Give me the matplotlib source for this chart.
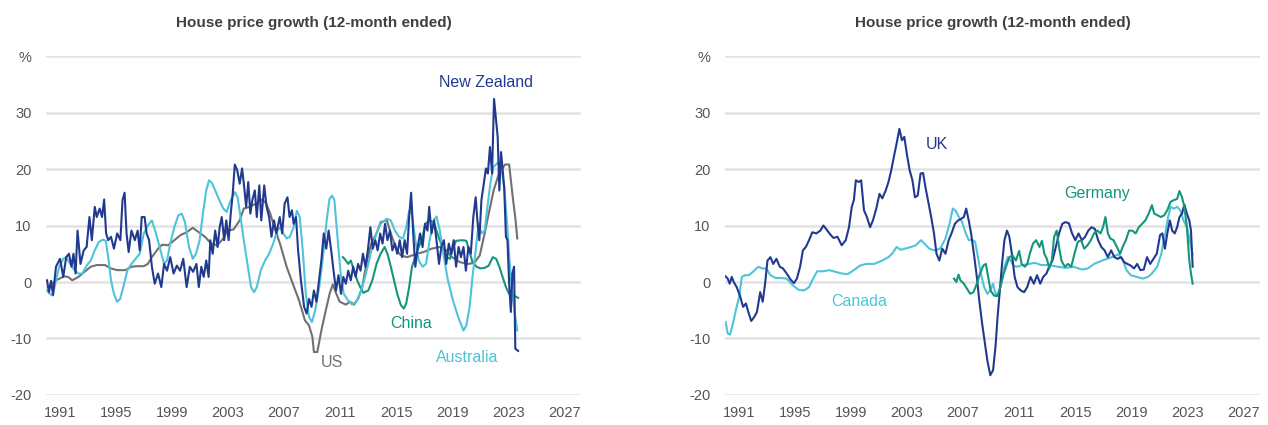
import matplotlib
matplotlib.use("Agg")
import matplotlib.pyplot as plt
from matplotlib import font_manager

# --- data (decimal years, % growth 12-month ended) ---
nz_x = [1990.07, 1990.21, 1990.36, 1990.50, 1990.71, 1991.00, 1991.23, 1991.44, 1991.64, 1991.82,
        1991.96, 1992.11, 1992.25, 1992.46, 1992.69, 1992.90, 1993.10, 1993.27, 1993.48, 1993.62,
        1993.83, 1994.00, 1994.15, 1994.29, 1994.44, 1994.64, 1994.85, 1995.08, 1995.31, 1995.46,
        1995.61, 1995.75, 1995.90, 1996.10, 1996.34, 1996.54, 1996.69, 1996.83, 1997.04, 1997.18,
        1997.36, 1997.56, 1997.76, 1998.00, 1998.23, 1998.43, 1998.64, 1998.87, 1999.11, 1999.34,
        1999.57, 1999.80, 2000.04, 2000.27, 2000.50, 2000.74, 2000.91, 2001.09, 2001.26, 2001.44,
        2001.61, 2001.73, 2001.90, 2002.08, 2002.25, 2002.40, 2002.55, 2002.72, 2002.87, 2003.04,
        2003.19, 2003.33, 2003.48, 2003.65, 2003.83, 2004.00, 2004.15, 2004.29, 2004.44, 2004.59,
        2004.73, 2004.91, 2005.05, 2005.23, 2005.37, 2005.58, 2005.75, 2005.93, 2006.10, 2006.28,
        2006.45, 2006.69, 2006.86, 2007.04, 2007.24, 2007.39, 2007.56, 2007.68, 2007.85, 2008.00,
        2008.20, 2008.43, 2008.61, 2008.78, 2008.96, 2009.13, 2009.31, 2009.46, 2009.66, 2009.83,
        2010.01, 2010.18, 2010.39, 2010.53, 2010.71, 2010.88, 2011.06, 2011.23, 2011.41, 2011.58,
        2011.76, 2011.93, 2012.11, 2012.28, 2012.46, 2012.63, 2012.81, 2012.98, 2013.16, 2013.33,
        2013.51, 2013.68, 2013.86, 2014.03, 2014.21, 2014.38, 2014.56, 2014.73, 2014.91, 2015.08,
        2015.26, 2015.43, 2015.61, 2015.78, 2015.93, 2016.07, 2016.22, 2016.37, 2016.54, 2016.71,
        2016.89, 2017.06, 2017.24, 2017.36, 2017.53, 2017.71, 2017.88, 2018.06, 2018.23, 2018.41,
        2018.58, 2018.76, 2018.93, 2019.11, 2019.28, 2019.46, 2019.63, 2019.81, 2019.98, 2020.16,
        2020.33, 2020.51, 2020.68, 2020.80, 2020.94, 2021.09, 2021.26, 2021.41, 2021.55, 2021.70,
        2021.85, 2021.99, 2022.14, 2022.25, 2022.37, 2022.49, 2022.60, 2022.72, 2022.84, 2022.95,
        2023.07, 2023.19, 2023.30, 2023.42, 2023.51, 2023.71]
nz_y = [0.3, -1.8, 0.2, -2.3, 2.7, 4.1, 0.9, 4.4, 5.0, 2.7,
        5.0, 1.5, 9.1, 3.2, 5.6, 6.2, 11.5, 7.4, 13.3, 11.5,
        13.0, 11.5, 14.6, 8.6, 7.4, 8.0, 5.9, 8.6, 7.4, 14.5,
        15.8, 8.6, 5.3, 9.1, 7.4, 9.1, 5.6, 11.5, 11.5, 8.6,
        7.4, 2.7, -0.3, 1.5, -0.9, 3.2, 2.0, 4.4, 1.5, 2.9,
        2.0, 4.1, -0.9, 2.7, 1.8, 3.2, -0.9, 2.7, 0.9, 3.8,
        0.9, 7.4, 5.0, 9.1, 6.2, 9.7, 11.5, 7.4, 10.9, 7.4,
        12.1, 15.6, 20.8, 19.8, 17.4, 20.1, 16.8, 13.3, 17.7, 12.1,
        14.5, 16.2, 11.5, 17.1, 10.9, 17.1, 13.3, 11.5, 8.0, 10.9,
        8.6, 11.5, 8.6, 13.9, 15.0, 11.5, 12.7, 10.3, 11.5, 5.6,
        0.3, -4.4, -5.6, -3.0, -4.4, -1.5, -3.5, -0.3, 3.8, 8.6,
        5.9, 9.1, 5.0, 2.0, -1.5, 1.2, -2.1, 0.9, -0.3, 2.0,
        0.3, 2.7, 0.9, 3.2, 2.0, 5.0, 2.7, 5.6, 9.7, 5.9,
        7.4, 5.6, 8.6, 6.8, 10.3, 7.4, 9.1, 5.6, 6.8, 5.0,
        7.4, 4.4, 7.4, 5.0, 11.5, 15.8, 8.6, 2.7, 6.2, 8.6,
        6.2, 10.3, 9.1, 13.3, 8.6, 10.9, 7.4, 3.2, 6.2, 7.4,
        3.2, 6.8, 5.0, 7.4, 2.7, 6.2, 4.4, 6.2, 2.0, 6.2,
        5.0, 11.5, 15.0, 10.9, 7.4, 14.5, 17.4, 20.1, 19.2, 23.9,
        19.2, 32.4, 28.6, 25.7, 16.2, 23.0, 20.1, 16.5, 8.0, 7.4,
        -0.3, -5.3, 1.5, 2.7, -11.8, -12.2]

us_x = [1990.13, 1990.71, 1991.29, 1991.58, 1991.87, 1992.31, 1992.75, 1993.19, 1993.62, 1994.21,
        1994.64, 1995.08, 1995.66, 1996.10, 1996.54, 1996.98, 1997.27, 1997.56, 1998.00, 1998.29,
        1998.73, 1999.16, 1999.60, 2000.04, 2000.48, 2000.91, 2001.35, 2001.79, 2002.22, 2002.66,
        2002.95, 2003.39, 2003.83, 2004.12, 2004.56, 2004.99, 2005.43, 2005.72, 2006.01, 2006.31,
        2006.74, 2007.18, 2007.62, 2008.06, 2008.49, 2008.78, 2009.02, 2009.13, 2009.37, 2009.66,
        2009.95, 2010.25, 2010.48, 2010.68, 2010.97, 2011.41, 2011.70, 2011.99, 2012.28, 2012.58,
        2012.87, 2013.22, 2013.60, 2013.89, 2014.33, 2014.62, 2015.05, 2015.34, 2015.78, 2016.37,
        2016.95, 2017.53, 2018.12, 2018.55, 2018.99, 2019.57, 2020.16, 2020.59, 2020.97, 2021.32,
        2021.61, 2021.96, 2022.34, 2022.78, 2023.07, 2023.30, 2023.53, 2023.65]
us_y = [-0.9, 0.3, 1.0, 0.9, 0.3, 0.9, 1.8, 2.7, 3.0, 3.0,
        2.4, 2.1, 2.1, 2.7, 2.8, 2.8, 3.2, 4.4, 5.9, 6.6,
        6.5, 7.4, 8.3, 8.8, 9.6, 8.8, 8.0, 6.8, 6.5, 7.7,
        9.1, 9.3, 10.9, 13.0, 13.3, 13.9, 14.6, 13.9, 12.1, 9.7,
        6.5, 2.7, -0.3, -3.2, -6.8, -7.7, -9.7, -12.4, -12.4, -8.6,
        -5.3, -2.1, -0.4, -1.8, -3.5, -4.0, -3.5, -4.0, -3.0, -0.9,
        3.2, 6.8, 8.6, 10.6, 10.9, 8.6, 5.6, 4.7, 4.4, 4.9,
        5.3, 5.9, 6.2, 5.7, 4.4, 3.5, 3.2, 3.4, 4.7, 8.6,
        12.1, 16.2, 19.2, 20.8, 20.8, 15.6, 10.9, 7.7]

au_x = [1990.07, 1990.27, 1990.48, 1990.71, 1990.94, 1991.23, 1991.44, 1991.73, 1992.02, 1992.31,
        1992.60, 1992.90, 1993.19, 1993.48, 1993.77, 1994.06, 1994.26, 1994.44, 1994.64, 1994.85,
        1995.08, 1995.29, 1995.52, 1995.81, 1996.10, 1996.39, 1996.69, 1996.98, 1997.27, 1997.56,
        1997.85, 1998.14, 1998.43, 1998.64, 1998.87, 1999.16, 1999.45, 1999.69, 1999.92, 2000.21,
        2000.48, 2000.71, 2000.97, 2001.20, 2001.44, 2001.64, 2001.85, 2002.08, 2002.37, 2002.66,
        2002.90, 2003.19, 2003.48, 2003.68, 2003.89, 2004.12, 2004.41, 2004.64, 2004.85, 2005.05,
        2005.34, 2005.64, 2005.93, 2006.22, 2006.51, 2006.74, 2006.95, 2007.18, 2007.41, 2007.68,
        2007.91, 2008.12, 2008.35, 2008.55, 2008.78, 2008.99, 2009.22, 2009.51, 2009.80, 2010.04,
        2010.24, 2010.42, 2010.59, 2010.83, 2011.06, 2011.26, 2011.55, 2011.85, 2012.14, 2012.43,
        2012.72, 2013.01, 2013.30, 2013.60, 2013.89, 2014.33, 2014.62, 2014.91, 2015.20, 2015.49,
        2015.72, 2015.93, 2016.13, 2016.37, 2016.61, 2016.89, 2017.13, 2017.39, 2017.68, 2017.88,
        2018.12, 2018.41, 2018.70, 2019.05, 2019.43, 2019.81, 2020.01, 2020.25, 2020.45, 2020.68,
        2020.89, 2021.09, 2021.32, 2021.55, 2021.76, 2021.96, 2022.25, 2022.49, 2022.72, 2022.92,
        2023.13, 2023.30, 2023.51, 2023.65]
au_y = [-1.5, -2.1, -2.4, 0.3, 2.7, 4.1, 4.4, 3.2, 2.1, 1.5,
        1.5, 2.9, 3.8, 5.6, 7.1, 7.5, 7.3, 4.4, 0.3, -2.1,
        -3.5, -3.0, -0.9, 2.1, 3.2, 4.1, 5.0, 8.6, 10.0, 10.9,
        8.6, 5.9, 3.2, 3.8, 6.8, 9.7, 11.8, 12.1, 10.6, 6.2,
        4.1, 5.0, 7.4, 12.1, 16.2, 18.0, 17.5, 16.2, 14.5, 13.0,
        12.4, 14.5, 15.9, 15.0, 11.5, 7.4, 2.7, -0.9, -1.8, -0.9,
        2.1, 3.8, 5.0, 6.8, 9.1, 9.7, 8.6, 7.7, 8.0, 9.7,
        12.6, 11.5, 5.0, -2.1, -6.2, -7.1, -5.0, -0.9, 5.0, 10.9,
        14.7, 15.3, 14.5, 7.4, 0.9, -2.1, -3.2, -4.0, -3.5, -2.1,
        0.3, 3.2, 6.2, 8.6, 10.3, 11.2, 10.9, 9.1, 8.0, 7.7,
        9.7, 12.6, 12.1, 7.4, 3.8, 2.7, 3.2, 7.4, 10.9, 11.6,
        9.1, 4.4, 0.3, -3.2, -6.2, -8.6, -7.7, -4.4, 0.9, 5.6,
        10.3, 8.6, 9.1, 13.9, 18.0, 20.4, 21.1, 20.4, 16.8, 10.3,
        2.7, -2.1, -6.2, -8.6]

cn_x = [2011.20, 2011.41, 2011.58, 2011.76, 2011.99, 2012.22, 2012.43, 2012.66, 2013.01, 2013.30,
        2013.60, 2013.89, 2014.18, 2014.38, 2014.62, 2014.85, 2015.08, 2015.34, 2015.55, 2015.72,
        2015.93, 2016.13, 2016.37, 2016.61, 2016.83, 2017.09, 2017.39, 2017.68, 2017.88, 2018.12,
        2018.35, 2018.58, 2018.84, 2019.05, 2019.28, 2019.72, 2020.01, 2020.22, 2020.45, 2020.74,
        2021.03, 2021.32, 2021.61, 2021.90, 2022.14, 2022.37, 2022.60, 2022.84, 2023.07, 2023.30,
        2023.48, 2023.71]
cn_y = [4.4, 3.8, 3.2, 3.8, 2.1, 0.3, -0.9, -1.9, -1.5, 0.3,
        3.2, 5.0, 6.2, 5.0, 2.7, 0.3, -2.1, -4.1, -4.7, -3.8,
        -0.9, 2.7, 4.4, 6.2, 7.4, 10.3, 10.9, 10.6, 9.1, 7.4,
        5.9, 4.4, 4.1, 5.9, 7.3, 7.4, 7.3, 5.6, 3.5, 2.7,
        2.4, 2.5, 2.9, 4.4, 4.1, 2.7, 0.9, -0.9, -2.1, -2.4,
        -2.5, -2.8]

uk_x = [1990.04, 1990.19, 1990.33, 1990.48, 1990.62, 1990.83, 1991.06, 1991.29, 1991.49, 1991.70,
        1991.87, 1992.08, 1992.28, 1992.51, 1992.69, 1992.86, 1993.03, 1993.24, 1993.44, 1993.67,
        1993.91, 1994.14, 1994.40, 1994.69, 1994.92, 1995.13, 1995.36, 1995.56, 1995.77, 1996.00,
        1996.23, 1996.52, 1996.81, 1997.02, 1997.22, 1997.45, 1997.74, 1998.03, 1998.33, 1998.62,
        1998.85, 1999.05, 1999.20, 1999.34, 1999.55, 1999.72, 1999.92, 2000.13, 2000.36, 2000.56,
        2000.80, 2001.03, 2001.23, 2001.47, 2001.67, 2001.87, 2002.05, 2002.25, 2002.45, 2002.63,
        2002.80, 2002.98, 2003.18, 2003.38, 2003.56, 2003.76, 2003.96, 2004.14, 2004.31, 2004.49,
        2004.72, 2004.92, 2005.10, 2005.30, 2005.51, 2005.74, 2005.97, 2006.17, 2006.41, 2006.64,
        2006.87, 2007.05, 2007.22, 2007.40, 2007.57, 2007.77, 2007.98, 2008.15, 2008.36, 2008.56,
        2008.73, 2008.94, 2009.14, 2009.31, 2009.46, 2009.60, 2009.78, 2009.95, 2010.13, 2010.30,
        2010.48, 2010.68, 2010.88, 2011.12, 2011.35, 2011.58, 2011.81, 2012.05, 2012.28, 2012.51,
        2012.72, 2012.95, 2013.15, 2013.38, 2013.62, 2013.85, 2014.08, 2014.31, 2014.55, 2014.78,
        2015.01, 2015.24, 2015.48, 2015.71, 2015.94, 2016.17, 2016.41, 2016.64, 2016.87, 2017.10,
        2017.33, 2017.57, 2017.80, 2018.03, 2018.27, 2018.50, 2018.73, 2018.97, 2019.20, 2019.43,
        2019.66, 2019.90, 2020.13, 2020.36, 2020.59, 2020.83, 2021.06, 2021.23, 2021.41, 2021.58,
        2021.76, 2021.93, 2022.11, 2022.28, 2022.45, 2022.63, 2022.80, 2022.98, 2023.15, 2023.27,
        2023.39]
uk_y = [1.0, 0.6, -0.3, 0.9, 0.0, -0.9, -2.4, -4.4, -3.8, -5.6,
        -6.9, -6.2, -5.3, -1.8, -3.5, -0.3, 3.8, 4.4, 3.2, 4.1,
        2.7, 2.4, 1.5, 0.4, -0.2, 0.6, 2.7, 5.6, 6.2, 7.4,
        8.8, 8.6, 9.1, 10.0, 9.4, 8.6, 7.8, 8.0, 6.5, 7.4,
        9.7, 13.3, 14.5, 18.0, 17.7, 18.0, 12.7, 11.5, 9.7, 10.9,
        13.0, 15.6, 14.8, 16.2, 17.7, 19.8, 22.1, 24.5, 27.1, 25.1,
        25.7, 22.7, 19.8, 18.0, 15.0, 15.3, 19.2, 19.3, 16.8, 14.5,
        11.5, 8.6, 5.0, 3.8, 5.9, 5.0, 7.4, 8.6, 10.3, 10.9,
        11.2, 11.5, 13.0, 10.9, 8.6, 5.0, 0.9, -3.2, -7.4, -10.9,
        -13.9, -16.5, -15.6, -11.5, -6.2, -2.1, 3.2, 7.4, 9.1, 8.0,
        5.0, 0.9, -0.9, -1.5, -1.8, -0.9, 0.9, -0.3, 1.2, -0.3,
        0.9, 1.5, 2.7, 3.8, 6.2, 8.6, 10.3, 10.6, 10.4, 8.6,
        7.4, 8.6, 7.4, 8.0, 9.1, 9.7, 9.4, 7.4, 6.2, 5.6,
        4.4, 5.6, 4.4, 4.1, 4.4, 3.5, 3.2, 2.9, 2.4, 3.2,
        2.1, 2.2, 4.4, 3.2, 4.1, 5.0, 8.3, 8.6, 5.9, 8.6,
        10.9, 9.1, 8.6, 9.7, 11.5, 12.1, 13.7, 12.1, 10.9, 9.1,
        2.7]

ca_x = [1990.04, 1990.19, 1990.36, 1990.53, 1990.77, 1991.00, 1991.20, 1991.41, 1991.70, 1991.99,
        1992.37, 1992.66, 1992.95, 1993.24, 1993.62, 1994.02, 1994.40, 1994.84, 1995.27, 1995.65,
        1996.00, 1996.29, 1996.58, 1997.02, 1997.45, 1997.89, 1998.33, 1998.76, 1999.20, 1999.63,
        2000.07, 2000.65, 2001.23, 2001.67, 2001.96, 2002.25, 2002.54, 2002.83, 2003.27, 2003.62,
        2003.99, 2004.28, 2004.58, 2004.95, 2005.36, 2005.74, 2006.03, 2006.26, 2006.47, 2006.70,
        2006.93, 2007.19, 2007.40, 2007.63, 2007.86, 2008.06, 2008.27, 2008.50, 2008.73, 2008.94,
        2009.14, 2009.31, 2009.52, 2009.72, 2009.95, 2010.19, 2010.39, 2010.59, 2010.83, 2011.26,
        2011.70, 2012.13, 2012.57, 2013.15, 2013.73, 2014.31, 2014.90, 2015.48, 2015.91, 2016.35,
        2016.93, 2017.51, 2018.09, 2018.38, 2018.67, 2018.97, 2019.40, 2019.84, 2020.19, 2020.48,
        2020.86, 2021.15, 2021.44, 2021.64, 2021.81, 2022.05, 2022.28, 2022.51, 2022.74, 2022.98,
        2023.18, 2023.39]
ca_y = [-7.1, -9.1, -9.3, -7.7, -5.0, -2.7, 0.9, 1.2, 1.2, 1.8,
        2.7, 2.4, 2.4, 1.2, 0.7, 0.7, 0.6, -0.6, -1.4, -1.5,
        -0.9, 0.6, 1.9, 1.9, 2.1, 1.8, 1.5, 1.4, 2.1, 2.9,
        3.2, 3.2, 3.8, 4.4, 5.1, 6.2, 5.7, 5.9, 6.2, 6.5,
        7.4, 6.7, 5.9, 5.6, 5.9, 7.7, 10.3, 13.0, 12.6, 11.5,
        10.6, 8.6, 7.4, 7.5, 7.1, 4.4, 1.5, -0.9, -2.1, -1.5,
        -0.3, -2.1, -2.4, -0.3, 2.7, 4.4, 3.8, 2.9, 2.7, 3.0,
        3.2, 3.4, 3.0, 3.0, 2.7, 2.5, 2.7, 2.2, 2.4, 3.2,
        3.8, 4.3, 4.9, 4.1, 2.1, 1.2, 0.9, 0.6, 0.9, 1.5,
        2.7, 5.0, 8.6, 11.5, 13.3, 13.0, 13.3, 12.7, 10.9, 9.7,
        7.4, 4.9]

de_x = [2006.35, 2006.52, 2006.67, 2006.81, 2007.05, 2007.28, 2007.51, 2007.74, 2007.98, 2008.21,
        2008.44, 2008.62, 2008.79, 2008.96, 2009.20, 2009.43, 2009.66, 2009.90, 2010.13, 2010.30,
        2010.53, 2010.77, 2011.00, 2011.18, 2011.41, 2011.58, 2011.76, 2011.99, 2012.22, 2012.45,
        2012.63, 2012.80, 2012.98, 2013.15, 2013.33, 2013.50, 2013.68, 2013.85, 2014.02, 2014.26,
        2014.49, 2014.72, 2014.95, 2015.19, 2015.42, 2015.65, 2015.88, 2016.12, 2016.35, 2016.58,
        2016.81, 2016.99, 2017.16, 2017.34, 2017.51, 2017.74, 2017.98, 2018.21, 2018.39, 2018.62,
        2018.85, 2019.08, 2019.32, 2019.55, 2019.78, 2020.01, 2020.25, 2020.48, 2020.65, 2020.89,
        2021.12, 2021.35, 2021.58, 2021.81, 2022.05, 2022.28, 2022.45, 2022.63, 2022.80, 2022.98,
        2023.15, 2023.27, 2023.39]
de_y = [0.6, 0.0, 1.3, 0.3, -0.3, -1.2, -2.1, -1.8, -0.3, 1.5,
        2.9, 3.2, 0.9, -1.5, -2.4, -2.5, -0.9, 1.5, 3.2, 4.4,
        4.7, 3.8, 5.5, 3.2, 2.7, 3.2, 5.0, 6.8, 7.4, 6.2,
        7.3, 5.0, 4.1, 2.4, 3.8, 8.0, 9.1, 6.2, 3.8, 2.7,
        3.2, 2.7, 5.0, 7.1, 7.4, 5.9, 6.5, 7.4, 8.6, 9.1,
        8.6, 9.7, 11.5, 8.6, 7.7, 7.4, 6.2, 5.0, 6.2, 7.4,
        9.1, 9.1, 8.6, 9.7, 10.3, 10.9, 12.1, 13.6, 12.1, 11.8,
        11.5, 11.8, 12.7, 14.2, 14.5, 14.7, 16.1, 15.0, 13.3, 9.7,
        3.8, 1.5, -0.3]

x_ticks = [1991, 1995, 1999, 2003, 2007, 2011, 2015, 2019, 2023, 2027]
y_ticks = [-20, -10, 0, 10, 20, 30, 40]
y_ticklabels = ["-20", "-10", "0", "10", "20", "30", "%"]
title = "House price growth (12-month ended)"

NAVY = "#213a8f"
LIGHT = "#4ec3d9"
GREY = "#707173"
TEAL = "#14967c"
TEXT = "#555555"

names = {f.name for f in font_manager.fontManager.ttflist}
narrow = "Liberation Sans Narrow" if "Liberation Sans Narrow" in names else "Liberation Sans"
plt.rcParams["font.family"] = [narrow, "DejaVu Sans"]

fig = plt.figure(figsize=(12.68, 4.25), dpi=100)
ax1 = fig.add_axes([0.0363, 0.0706, 0.4219, 0.7976])
ax2 = fig.add_axes([0.5718, 0.0706, 0.4219, 0.7976])

for ax in (ax1, ax2):
    ax.set_xlim(1990.0, 2028.2)
    ax.set_ylim(-20, 40)
    ax.set_xticks(x_ticks)
    ax.set_yticks(y_ticks)
    ax.set_yticklabels(y_ticklabels)
    for s in ax.spines.values():
        s.set_visible(False)
    ax.grid(axis="y", color="#e3e3e3", linewidth=1.8)
    ax.set_axisbelow(True)
    ax.tick_params(length=0, labelsize=10.5, colors=TEXT)
    ax.tick_params(axis="y", pad=10.5)
    ax.tick_params(axis="x", pad=8)
    ax.set_title(title, fontsize=11, fontweight="bold", color="#404040", pad=21)

lw = 1.5
ax1.plot(us_x, us_y, color=GREY, lw=lw)
ax1.plot(cn_x, cn_y, color=TEAL, lw=lw)
ax1.plot(au_x, au_y, color=LIGHT, lw=lw)
ax1.plot(nz_x, nz_y, color=NAVY, lw=lw)

ax2.plot(ca_x, ca_y, color=LIGHT, lw=lw)
ax2.plot(uk_x, uk_y, color=NAVY, lw=lw)
ax2.plot(de_x, de_y, color=TEAL, lw=lw)

lab = dict(fontsize=11.5, ha="center", va="center")
ax1.text(2021.4, 35.4, "New Zealand", color=NAVY, **lab)
ax1.text(2010.4, -14.2, "US", color=GREY, **lab)
ax1.text(2016.1, -7.3, "China", color=TEAL, **lab)
ax1.text(2020.1, -13.3, "Australia", color=LIGHT, **lab)
ax2.text(2005.1, 24.4, "UK", color=NAVY, **lab)
ax2.text(2016.6, 15.6, "Germany", color=TEAL, **lab)
ax2.text(1999.6, -3.5, "Canada", color=LIGHT, **lab)

fig.savefig("out.png", dpi=100)
